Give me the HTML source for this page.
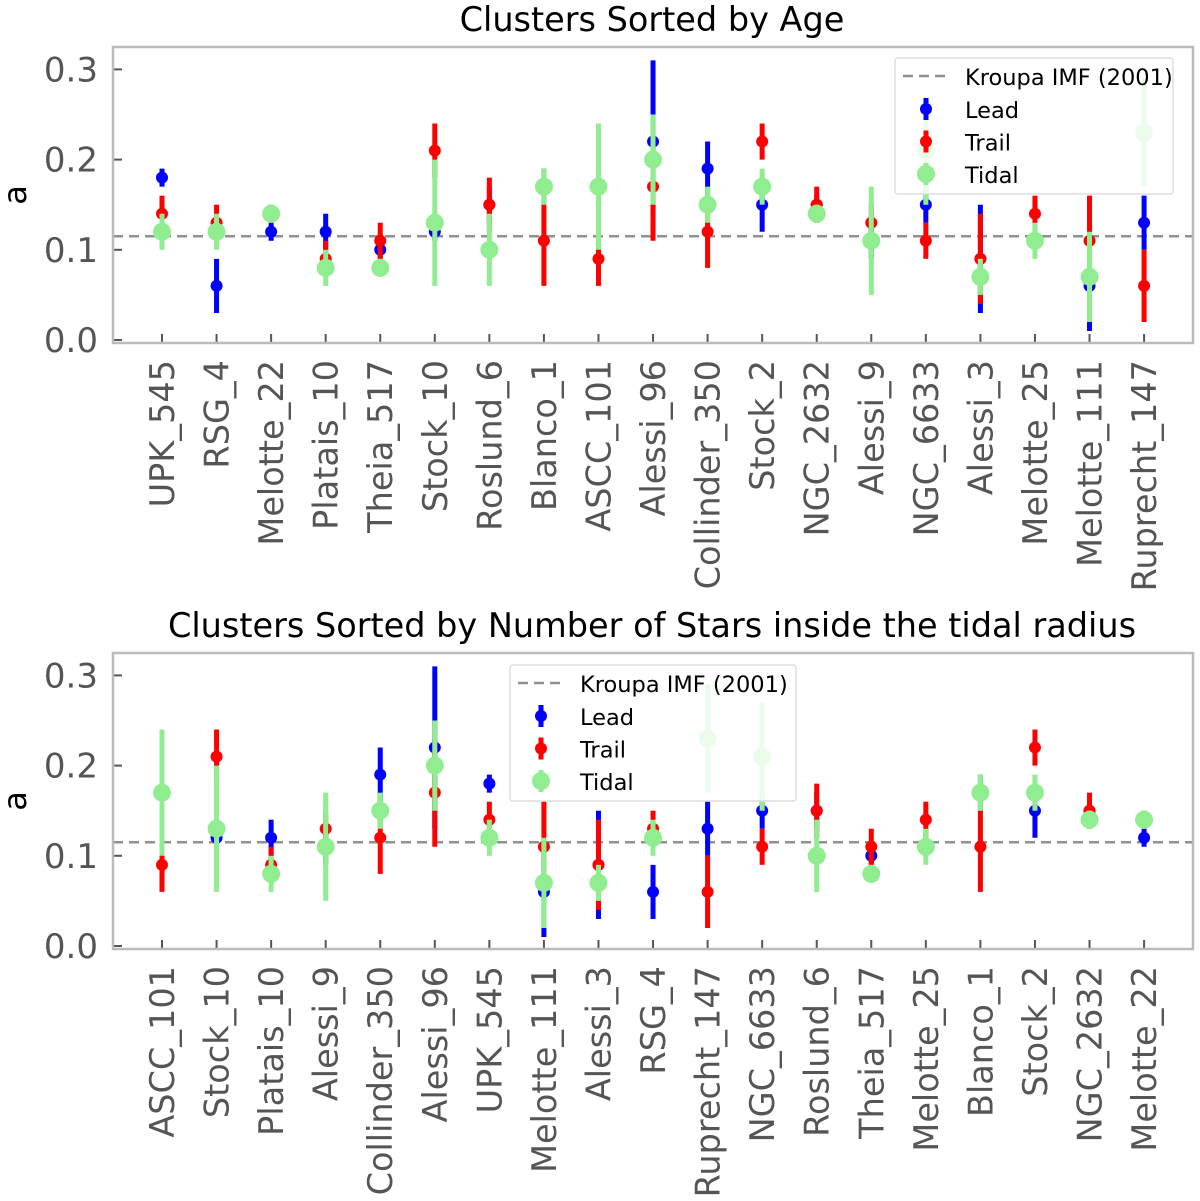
<!DOCTYPE html>
<html><head><meta charset="utf-8"><style>
html,body{margin:0;padding:0;background:#fff;}
svg{display:block;font-family:"DejaVu Sans","Liberation Sans",sans-serif;}
</style></head><body>
<svg id="chart" width="1200" height="1201" viewBox="0 0 1200 1201" xmlns="http://www.w3.org/2000/svg"></svg>
<script>
const clusters = ["UPK_545","RSG_4","Melotte_22","Platais_10","Theia_517","Stock_10","Roslund_6","Blanco_1","ASCC_101","Alessi_96","Collinder_350","Stock_2","NGC_2632","Alessi_9","NGC_6633","Alessi_3","Melotte_25","Melotte_111","Ruprecht_147"];
const leadVal = [0.18,0.06,0.12,0.12,0.10,0.12,0.15,0.17,0.17,0.22,0.19,0.15,0.15,0.11,0.15,0.09,0.11,0.06,0.13];
const leadLo  = [0.17,0.03,0.11,0.10,0.09,0.11,0.13,0.15,0.15,0.13,0.16,0.12,0.14,0.09,0.13,0.03,0.10,0.01,0.10];
const leadHi  = [0.19,0.09,0.13,0.14,0.11,0.13,0.17,0.19,0.19,0.31,0.22,0.18,0.16,0.13,0.17,0.15,0.12,0.11,0.16];
const trailVal = [0.14,0.13,0.14,0.09,0.11,0.21,0.15,0.11,0.09,0.17,0.12,0.22,0.15,0.13,0.11,0.09,0.14,0.11,0.06];
const trailLo  = [0.12,0.11,0.13,0.07,0.09,0.18,0.12,0.06,0.06,0.11,0.08,0.20,0.13,0.11,0.09,0.04,0.12,0.06,0.02];
const trailHi  = [0.16,0.15,0.15,0.11,0.13,0.24,0.18,0.15,0.12,0.23,0.16,0.24,0.17,0.15,0.13,0.14,0.16,0.16,0.10];
const tidalVal = [0.12,0.12,0.14,0.08,0.08,0.13,0.10,0.17,0.17,0.20,0.15,0.17,0.14,0.11,0.21,0.07,0.11,0.07,0.23];
const tidalLo  = [0.10,0.10,0.13,0.06,0.07,0.06,0.06,0.15,0.10,0.15,0.13,0.15,0.13,0.05,0.15,0.05,0.09,0.02,0.17];
const tidalHi  = [0.14,0.14,0.15,0.10,0.09,0.20,0.14,0.19,0.24,0.25,0.17,0.19,0.15,0.17,0.27,0.09,0.13,0.12,0.29];
const starOrder = ["ASCC_101","Stock_10","Platais_10","Alessi_9","Collinder_350","Alessi_96","UPK_545","Melotte_111","Alessi_3","RSG_4","Ruprecht_147","NGC_6633","Roslund_6","Theia_517","Melotte_25","Blanco_1","Stock_2","NGC_2632","Melotte_22"];
const yTicks = [0.0,0.1,0.2,0.3];
const kroupa = 0.115;

const NS="http://www.w3.org/2000/svg";
const svg=document.getElementById('chart');
function mk(tag,attrs,parent){const e=document.createElementNS(NS,tag);for(const k in attrs)e.setAttribute(k,attrs[k]);(parent||svg).appendChild(e);return e;}

function panel(p){
  const g=mk('g',{});
  
  
  const L=113,R=1193,T=p.top,B=p.top+296,y0=p.top+293,ppu=902;
  const ys=v=>y0-v*ppu;
  const xs=i=>162+i*54.56;
  const t=mk('text',{x:(L+R)/2 - 1,y:T-16,'text-anchor':'middle','font-size':33.5,fill:'#000'},g);t.textContent=p.title;
  
  
  const yl=mk('text',{x:0,y:0,transform:`translate(26,${(T+B)/2}) rotate(-90)`,'text-anchor':'middle','font-size':32,fill:'#000'},g);yl.textContent='a';
  
  
  yTicks.forEach(v=>{
    mk('line',{x1:L,x2:L+9,y1:ys(v),y2:ys(v),stroke:'#555','stroke-width':2},g);
    const tl=mk('text',{x:L-15,y:ys(v)+12,'text-anchor':'end','font-size':34,fill:'#555'},g);tl.textContent=v.toFixed(1);
    
    
  });
  p.order.forEach((name,i)=>{
    const x=xs(i);
    mk('line',{x1:x,x2:x,y1:B-9,y2:B,stroke:'#555','stroke-width':2},g);
    const tl=mk('text',{x:0,y:0,transform:`translate(${x+12},${B+17}) rotate(-90)`,'text-anchor':'end','font-size':33.5,fill:'#555'},g);tl.textContent=name;
    
    
  });
  mk('line',{x1:L,x2:R,y1:ys(kroupa),y2:ys(kroupa),stroke:'#909090','stroke-width':2.5,'stroke-dasharray':'10,6'},g);
  const series=[['lead',leadVal,leadLo,leadHi,'#0000ff',6],['trail',trailVal,trailLo,trailHi,'#ff0000',6],['tidal',tidalVal,tidalLo,tidalHi,'#90ee90',9]];
  series.forEach(([nm,val,lo,hi,col,r])=>{
    p.order.forEach((name,i)=>{
      const k=clusters.indexOf(name);const x=xs(i);
      const eb=mk('line',{x1:x,x2:x,y1:ys(lo[k]),y2:ys(hi[k]),stroke:col,'stroke-width':5},g);
      
      
      const c=mk('circle',{cx:x,cy:ys(val[k]),r:r,fill:col},g);
      
      
    });
  });
  mk('rect',{x:L,y:T,width:R-L,height:B-T,fill:'none',stroke:'#bbb','stroke-width':2.5},g);
  const lx=p.lx,ly=p.ly;
  const lg=mk('g',{},g);
  
  
  mk('rect',{x:lx,y:ly,width:p.lw,height:136,fill:'#fff','fill-opacity':0.82,stroke:'#ddd','stroke-width':1.5,rx:3},lg);
  mk('line',{x1:lx+8,x2:lx+55,y1:ly+18,y2:ly+18,stroke:'#909090','stroke-width':2.5,'stroke-dasharray':'10,6'},lg);
  const lt=mk('text',{x:lx+70,y:ly+27,'font-size':22.5,fill:'#000'},lg);lt.textContent='Kroupa IMF (2001)';
  [['Lead','#0000ff',6],['Trail','#ff0000',6],['Tidal','#90ee90',9]].forEach(([n,c,r],j)=>{
    const yy=ly+51+j*32.5;
    mk('line',{x1:lx+31,x2:lx+31,y1:yy-11,y2:yy+11,stroke:c,'stroke-width':5},lg);
    mk('circle',{cx:lx+31,cy:yy,r:r,fill:c},lg);
    const e=mk('text',{x:lx+70,y:yy+9,'font-size':22.5,fill:'#000'},lg);e.textContent=n;
    
    
  });
}
panel({name:'age-panel',title:'Clusters Sorted by Age',top:47,order:clusters,lx:895,ly:58,lw:278});
panel({name:'stars-panel',title:'Clusters Sorted by Number of Stars inside the tidal radius',top:653,order:starOrder,lx:510,ly:665,lw:286});
</script>
</body></html>
